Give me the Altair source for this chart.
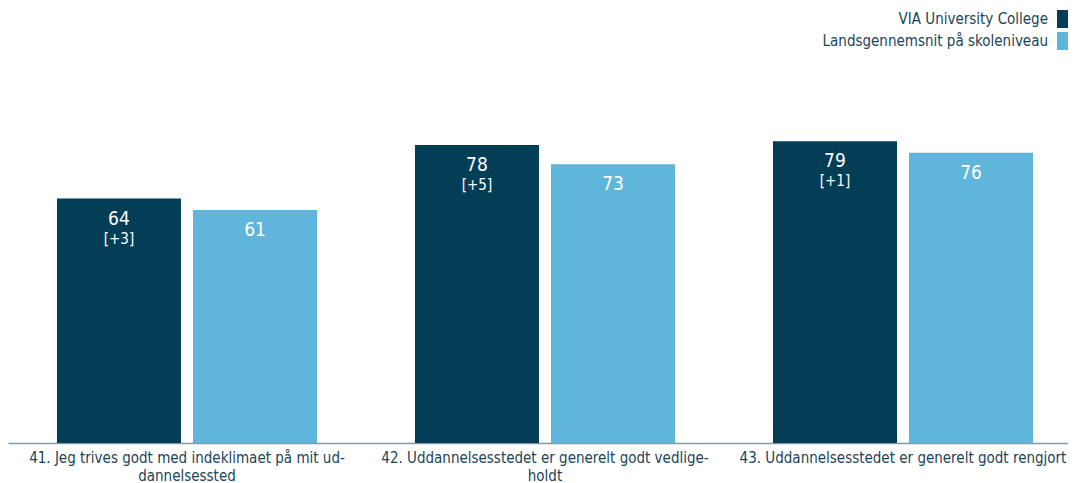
import altair as alt
import pandas as pd

categories = [
    "41. Jeg trives godt med indeklimaet på mit ud-|dannelsessted",
    "42. Uddannelsesstedet er generelt godt vedlige-|holdt",
    "43. Uddannelsesstedet er generelt godt rengjort",
]
series = ["VIA University College", "Landsgennemsnit på skoleniveau"]
via_values = [64, 78, 79]
national_values = [61, 73, 76]
differences = ["[+3]", "[+5]", "[+1]"]
colors = ["#043d56", "#5fb6da"]

FONT = "DejaVu Sans Condensed"
TEXT_COLOR = "#1a4558"

rows = []
for i, c in enumerate(categories):
    rows.append(dict(cat=c, serie=series[0], value=via_values[i], diff=differences[i]))
    rows.append(dict(cat=c, serie=series[1], value=national_values[i], diff=""))
df = pd.DataFrame(rows)

x = alt.X(
    "cat:N", sort=categories, title=None,
    scale=alt.Scale(paddingInner=0, paddingOuter=0),
    axis=alt.Axis(labelAngle=0, labelExpr="split(datum.label, '|')", ticks=False,
                  domainColor="#8597a5", domainWidth=1.5, labelColor=TEXT_COLOR,
                  labelFont=FONT, labelFontSize=15, labelPadding=7,
                  labelLineHeight=18, labelLimit=0, grid=False),
)
xo = alt.XOffset("serie:N", sort=series,
                 scale=alt.Scale(paddingInner=0.088, paddingOuter=0.36))
y = alt.Y("value:Q", scale=alt.Scale(domain=[0, 100]), axis=None)

base = alt.Chart(df).encode(x=x, xOffset=xo)
bars = base.mark_bar().encode(
    y=y,
    color=alt.Color("serie:N", scale=alt.Scale(domain=series, range=colors), legend=None),
)
vals = base.mark_text(color="white", font=FONT, fontSize=19, dy=26,
                      baseline="alphabetic").encode(y=y, text="value:Q")
diffs = base.mark_text(color="white", font=FONT, fontSize=15, dy=45,
                       baseline="alphabetic").encode(y=y, text="diff:N")

legend_layers = []
for i, s in enumerate(series):
    ldf = pd.DataFrame({"serie": [s]})
    top = -51 + i * 22
    legend_layers.append(
        alt.Chart(ldf).mark_text(align="right", baseline="middle", font=FONT,
                                 fontSize=15, color=TEXT_COLOR).encode(
            x=alt.value(1040), y=alt.value(top + 9), text="serie:N")
    )
    legend_layers.append(
        alt.Chart(ldf).mark_rect(color=colors[i]).encode(
            x=alt.value(1049), x2=alt.value(1060),
            y=alt.value(top), y2=alt.value(top + 18))
    )

chart = alt.layer(bars, vals, diffs, *legend_layers).properties(
    width=1074, height=382,
    padding={"left": 0, "top": 53, "right": -14, "bottom": 40},
    autosize="none",
).configure_view(stroke=None)

chart.save("out.html", embed_options={"renderer": "svg", "actions": False})
